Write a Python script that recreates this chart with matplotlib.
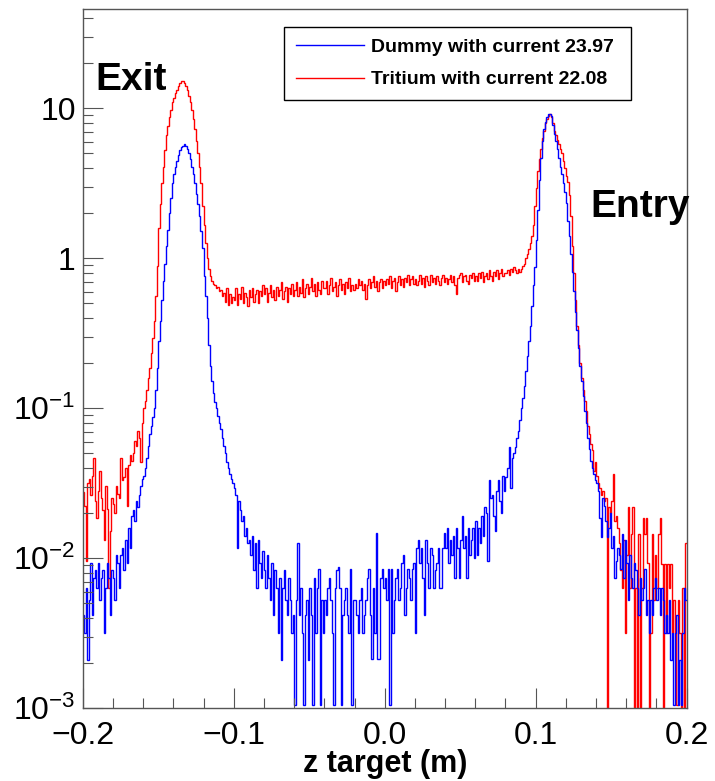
import numpy as np
import matplotlib
matplotlib.use("Agg")
import matplotlib.pyplot as plt
from matplotlib.ticker import FixedLocator, FixedFormatter, MultipleLocator, LogLocator, NullFormatter

plt.rcParams["font.family"] = ["Liberation Sans", "DejaVu Sans"]
plt.rcParams["mathtext.fontset"] = "custom"
plt.rcParams["mathtext.rm"] = "Liberation Sans"
plt.rcParams["mathtext.it"] = "Liberation Sans:italic"
plt.rcParams["mathtext.bf"] = "Liberation Sans:bold"
plt.rcParams["mathtext.default"] = "regular"

# ============================================================
# Histogram of z target, 400 bins of 1 mm from -0.2 to 0.2 m.
# Bin contents, stored as log10(value).
# None = empty bin (ROOT draws the line down to the floor).
# ============================================================
Z_MIN, Z_MAX, N_BINS = -0.2, 0.2, 400

dummy_log10 = [
    -2.38, -2.50, -2.20, -2.68, -2.28, -2.03, -2.38, -2.13, -2.08, -2.20, -2.03, -2.28, -2.13, -2.08, -2.50, -2.20, -2.03, -2.13, -2.38, -2.08,
    -2.13, -2.28, -1.98, -2.03, -2.20, -1.98, -1.93, -2.08, -1.88, -2.03, -1.80, -1.93, -1.72, -1.68, -1.75, -1.62, -1.66, -1.58, -1.52, -1.47,
    -1.45, -1.40, -1.33, -1.25, -1.17, -1.12, -1.06, -1.00, -0.88, -0.73, -0.55, -0.42, -0.28, -0.15, -0.04, 0.08, 0.19, 0.30, 0.40, 0.50,
    0.56, 0.61, 0.65, 0.69, 0.72, 0.74, 0.75, 0.76, 0.75, 0.73, 0.70, 0.66, 0.61, 0.56, 0.50, 0.43, 0.36, 0.28, 0.18, 0.07,
    -0.12, -0.25, -0.40, -0.58, -0.72, -0.82, -0.90, -0.96, -1.00, -1.05, -1.10, -1.14, -1.20, -1.25, -1.30, -1.36, -1.40, -1.44, -1.47, -1.50,
    -1.53, -1.58, -1.93, -1.62, -1.68, -1.75, -1.72, -1.85, -1.80, -1.90, -1.88, -1.98, -1.85, -2.08, -1.90, -2.20, -1.88, -2.03, -2.13, -1.95,
    -2.08, -2.20, -1.98, -2.13, -2.28, -2.03, -2.38, -2.08, -2.20, -2.50, -2.13, -2.68, -2.20, -2.08, -2.28, -2.38, -2.13, -2.28, -2.50, -2.38,
    -2.98, -2.28, -1.90, -2.38, -2.20, -2.50, -2.98, -2.38, -2.28, -2.68, -2.20, -2.38, -2.98, -2.13, -2.50, -2.20, -2.07, -2.98, -2.28, -2.50,
    -2.28, -2.38, -2.20, -2.13, -2.28, -2.50, -2.98, -2.20, -2.08, -2.06, -2.20, -2.98, -2.38, -2.28, -2.20, -2.38, -2.50, -2.07, -2.98, -2.28,
    -2.28, -2.38, -2.50, -2.28, -2.20, -2.50, -2.38, -2.28, -2.13, -2.07, -2.38, -2.67, -2.20, -2.50, -1.83, -2.67, -2.67, -2.13, -2.07, -2.20,
    -2.13, -2.28, -2.07, -2.98, -2.07, -2.50, -2.28, -2.13, -2.07, -2.28, -2.20, -2.03, -1.98, -2.38, -2.20, -2.07, -2.13, -2.28, -2.07, -2.03,
    -2.50, -1.93, -1.88, -2.03, -1.93, -2.13, -2.38, -1.88, -2.03, -2.20, -1.93, -1.98, -2.20, -2.08, -2.03, -1.93, -2.20, -2.20, -1.93, -1.83,
    -1.93, -1.80, -2.03, -1.88, -1.98, -1.85, -2.13, -1.80, -1.93, -2.13, -1.88, -1.72, -1.93, -1.85, -2.13, -1.80, -1.98, -1.88, -1.80, -2.00,
    -1.75, -1.98, -1.80, -1.90, -1.72, -1.85, -1.66, -1.70, -2.02, -1.48, -1.60, -1.58, -1.72, -1.82, -1.55, -1.48, -1.62, -1.70, -1.45, -1.55,
    -1.46, -1.40, -1.26, -1.53, -1.33, -1.30, -1.26, -1.20, -1.15, -1.08, -1.00, -0.93, -0.85, -0.75, -0.65, -0.55, -0.45, -0.32, -0.18, -0.06,
    0.12, 0.32, 0.52, 0.67, 0.78, 0.86, 0.91, 0.94, 0.96, 0.96, 0.95, 0.89, 0.83, 0.78, 0.73, 0.67, 0.61, 0.56, 0.50, 0.44,
    0.37, 0.25, 0.15, 0.03, -0.09, -0.22, -0.36, -0.48, -0.60, -0.72, -0.82, -0.92, -1.02, -1.10, -1.20, -1.27, -1.35, -1.40, -1.44, -1.48,
    -1.50, -1.55, -1.73, -1.86, -1.60, -1.65, -1.75, -1.86, -1.80, -1.70, -1.93, -1.85, -2.13, -2.02, -1.93, -1.98, -2.07, -1.84, -2.13, -1.88,
    -2.03, -2.28, -1.98, -2.13, -2.20, -2.03, -2.08, -2.20, -2.38, -2.13, -2.28, -2.20, -2.07, -2.38, -2.28, -2.50, -2.28, -2.38, -2.20, -2.13,
    -2.28, -2.20, -2.38, -2.20, -2.28, -2.50, -2.38, -2.50, -2.28, -2.68, -2.50, -2.98, -2.50, -2.38, -2.98, -2.68, -2.98, -2.50, -2.20, -2.28,
]

tritium_log10 = [
    -1.56, -1.65, -2.02, -1.50, -1.47, -1.58, -1.45, -1.33, -1.62, -1.73, -1.55, -1.42, -1.60, -1.68, -1.88, -1.52, -1.67, -2.20, -1.82, -1.60,
    -1.64, -1.70, -1.52, -1.57, -1.60, -1.33, -1.48, -1.46, -1.40, -1.65, -1.38, -1.31, -1.35, -1.30, -1.22, -1.25, -1.15, -1.20, -1.36, -1.10,
    -1.00, -0.95, -0.88, -0.80, -0.73, -0.63, -0.53, -0.42, -0.25, -0.05, 0.20, 0.36, 0.50, 0.61, 0.72, 0.82, 0.88, 0.94, 0.99, 1.04,
    1.07, 1.10, 1.12, 1.15, 1.17, 1.18, 1.18, 1.17, 1.15, 1.12, 1.08, 1.04, 0.99, 0.93, 0.86, 0.78, 0.70, 0.61, 0.50, 0.35,
    0.22, 0.10, 0.00, -0.07, -0.12, -0.15, -0.17, -0.18, -0.20, -0.19, -0.22, -0.21, -0.25, -0.23, -0.29, -0.20, -0.31, -0.24, -0.30, -0.26,
    -0.28, -0.20, -0.31, -0.24, -0.27, -0.19, -0.30, -0.23, -0.26, -0.32, -0.21, -0.26, -0.20, -0.29, -0.24, -0.21, -0.30, -0.22, -0.25, -0.18,
    -0.24, -0.20, -0.29, -0.23, -0.18, -0.26, -0.21, -0.28, -0.19, -0.25, -0.21, -0.16, -0.27, -0.22, -0.19, -0.29, -0.20, -0.24, -0.17, -0.25,
    -0.21, -0.16, -0.25, -0.19, -0.23, -0.14, -0.26, -0.20, -0.17, -0.24, -0.19, -0.13, -0.22, -0.17, -0.25, -0.16, -0.21, -0.24, -0.15, -0.20,
    -0.20, -0.15, -0.24, -0.18, -0.13, -0.22, -0.19, -0.16, -0.25, -0.18, -0.14, -0.21, -0.17, -0.24, -0.16, -0.20, -0.13, -0.22, -0.18, -0.21,
    -0.17, -0.20, -0.14, -0.18, -0.15, -0.21, -0.17, -0.27, -0.18, -0.14, -0.20, -0.16, -0.12, -0.19, -0.15, -0.22, -0.16, -0.14, -0.20, -0.15,
    -0.18, -0.14, -0.17, -0.12, -0.20, -0.15, -0.13, -0.22, -0.16, -0.12, -0.18, -0.14, -0.19, -0.13, -0.16, -0.11, -0.18, -0.14, -0.12, -0.17,
    -0.14, -0.18, -0.15, -0.11, -0.17, -0.13, -0.19, -0.12, -0.15, -0.18, -0.11, -0.16, -0.13, -0.17, -0.12, -0.15, -0.18, -0.13, -0.11, -0.16,
    -0.13, -0.17, -0.14, -0.11, -0.16, -0.12, -0.18, -0.24, -0.13, -0.11, -0.10, -0.16, -0.12, -0.11, -0.15, -0.17, -0.11, -0.13, -0.10, -0.15,
    -0.12, -0.15, -0.10, -0.13, -0.09, -0.16, -0.12, -0.10, -0.14, -0.08, -0.12, -0.15, -0.09, -0.12, -0.08, -0.14, -0.10, -0.07, -0.12, -0.10,
    -0.10, -0.08, -0.11, -0.07, -0.09, -0.06, -0.08, -0.10, -0.07, -0.09, -0.07, -0.05, -0.04, 0.00, 0.03, 0.06, 0.10, 0.15, 0.22, 0.35,
    0.47, 0.58, 0.66, 0.73, 0.80, 0.85, 0.90, 0.93, 0.95, 0.96, 0.94, 0.90, 0.85, 0.82, 0.79, 0.76, 0.73, 0.70, 0.65, 0.60,
    0.55, 0.51, 0.42, 0.28, 0.08, -0.10, -0.28, -0.45, -0.58, -0.70, -0.80, -0.88, -0.95, -1.02, -1.12, -1.17, -1.24, -1.28, -1.42, -1.36,
    -1.45, -1.50, -1.53, -1.58, -1.55, -1.62, -1.60, None, -1.66, -1.70, -1.62, -1.44, -1.75, -1.72, -1.80, -1.90, -2.08, -2.20, -1.88, -2.50,
    -1.98, -1.66, -2.20, -1.84, -1.66, None, -2.20, None, -1.84, None, -2.20, -1.73, -1.84, -1.73, -2.03, None, -2.50, -1.84, -2.28, -1.98,
    -2.20, -1.84, -1.73, -2.04, None, -2.04, -2.50, -2.04, -2.20, -2.04, -2.50, -2.28, -2.50, -2.98, -2.28, -2.50, None, -2.20, None, -1.90,
]

dummy_label = "Dummy with current 23.97"
tritium_label = "Tritium with current 22.08"

x_ticks = [-0.2, -0.1, 0.0, 0.1, 0.2]
x_ticklabels = ["\u22120.2", "\u22120.1", "0.0", "0.1", "0.2"]
y_ticks = [1e-3, 1e-2, 1e-1, 1, 10]
y_ticklabels = ["$10^{-3}$", "$10^{-2}$", "$10^{-1}$", "1", "10"]
Y_MIN, Y_MAX = 1e-3, 45.7


def to_values(logs):
    # empty bins -> tiny value so the step drops below the frame
    return np.array([10.0 ** v if v is not None else 1e-9 for v in logs])


edges = np.linspace(Z_MIN, Z_MAX, N_BINS + 1)
dummy = to_values(dummy_log10)
tritium = to_values(tritium_log10)
assert len(dummy) == N_BINS and len(tritium) == N_BINS

fig = plt.figure(figsize=(7.15, 7.81), dpi=100)
ax = fig.add_axes([0.1157, 0.0931, 0.8447, 0.8950])

ax.stairs(tritium, edges, baseline=None, color="#ff0000", linewidth=1.0, label=tritium_label)
ax.stairs(dummy, edges, baseline=None, color="#0000ff", linewidth=1.0, label=dummy_label)

ax.set_yscale("log")
ax.set_xlim(Z_MIN, Z_MAX)
ax.set_ylim(Y_MIN, Y_MAX)

frame_col = "#555555"
for sp in ax.spines.values():
    sp.set_color(frame_col)
    sp.set_linewidth(1.0)

ax.xaxis.set_major_locator(FixedLocator(x_ticks))
ax.xaxis.set_major_formatter(FixedFormatter(x_ticklabels))
ax.xaxis.set_minor_locator(MultipleLocator(0.02))
ax.yaxis.set_major_locator(FixedLocator(y_ticks))
ax.yaxis.set_major_formatter(FixedFormatter(y_ticklabels))
ax.yaxis.set_minor_locator(LogLocator(base=10, subs=np.arange(2, 10)))
ax.yaxis.set_minor_formatter(NullFormatter())

ax.tick_params(which="major", direction="in", length=14.4, width=0.8, color=frame_col,
               labelsize=23, top=False, right=False)
ax.tick_params(which="minor", direction="in", length=7.2, width=0.8, color=frame_col,
               top=False, right=False)
ax.tick_params(axis="x", which="major", pad=9)
ax.tick_params(axis="y", which="major", pad=5)

ax.set_xlabel("z target (m)", fontsize=22, fontweight="bold", labelpad=-1)

# legend order: Dummy first
handles, labels = ax.get_legend_handles_labels()
leg = ax.legend(handles[::-1], labels[::-1], loc="upper left",
                bbox_to_anchor=(0.333, 0.873, 0.575, 0.1017), mode="expand",
                prop={"size": 14, "weight": "bold"}, frameon=True, fancybox=False,
                edgecolor="black", framealpha=1, borderpad=0.6, labelspacing=0.75,
                handlelength=3.5, handletextpad=0.4, borderaxespad=0)
leg.get_frame().set_linewidth(1.0)

ax.text(0.0204, 0.8845, "Exit", transform=ax.transAxes, fontsize=28,
        fontweight="bold", ha="left", va="baseline")
ax.text(0.840, 0.703, "Entry", transform=ax.transAxes, fontsize=28,
        fontweight="bold", ha="left", va="baseline", clip_on=False)

fig.savefig("out.png", dpi=100, facecolor="white")
